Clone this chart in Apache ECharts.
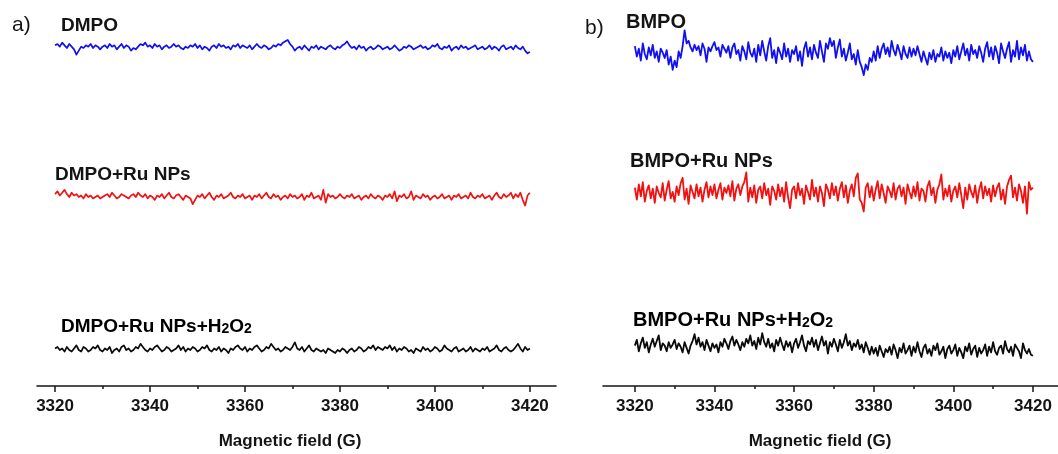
<!DOCTYPE html>
<html><head><meta charset="utf-8">
<script src="https://cdn.jsdelivr.net/npm/echarts@6/dist/echarts.min.js"></script>
<style>html,body{margin:0;padding:0;background:#fff}#c{width:1058px;height:454px}</style>
</head><body><div id="c"></div>
<script>
// Magnetic field sweep (G)
const fieldStart = 3320, fieldStep = 0.5;
const majorTicks = [3320, 3340, 3360, 3380, 3400, 3420];
const minorTicks = [3330, 3350, 3370, 3390, 3410];
const axisName = 'Magnetic field (G)';

// EPR intensity (a.u.), panel a
const dmpo = [2,3,1,4,2,0,3,1,-1,-5,-2,1,0,2,1,3,0,2,1,-1,
1,2,0,3,1,2,-1,1,3,0,2,1,-2,0,-1,1,3,2,4,1,
2,0,3,1,2,-1,1,2,0,1,3,1,2,0,-1,1,0,2,1,3,
0,2,-1,1,0,-2,1,2,0,3,1,2,0,1,-1,2,1,3,0,2,
1,0,2,-1,1,3,1,0,2,1,-1,0,2,1,3,2,4,5,6,3,
1,-2,0,1,-1,2,0,-2,1,0,2,-1,1,0,-1,1,2,0,-1,1,
0,2,3,5,2,0,1,-1,2,0,1,-2,0,1,-1,0,2,1,-1,0,
1,-1,0,2,0,-2,-1,1,0,2,1,-1,0,1,2,0,1,-1,0,2,
1,3,0,-1,1,0,2,-2,0,1,-1,2,0,1,-1,0,1,2,-1,0,
1,-1,0,2,-1,1,0,-2,1,2,-1,0,1,-1,2,0,-1,1,-2,-4,-3];
const dmpoRu = [2,4,1,3,5,2,0,3,1,2,0,1,-1,2,0,1,-1,0,1,-1,
0,1,2,0,3,1,-1,0,2,1,0,-1,1,2,0,3,1,0,2,-1,
1,0,-2,1,0,2,-1,1,3,0,-1,1,2,0,-2,1,0,-1,-5,-2,
1,0,2,-1,1,3,0,-2,1,0,2,-1,0,1,3,0,-1,1,0,2,
-1,0,1,-2,1,0,2,-1,1,3,0,-1,2,0,1,-2,0,1,-1,2,
0,1,-1,0,2,-2,1,0,3,-1,0,1,-2,5,-4,2,0,1,-1,0,
2,0,-1,1,0,2,-1,0,1,-2,0,1,-1,2,0,-1,1,0,-2,1,
0,2,-1,4,-3,1,0,2,-1,0,4,-2,1,0,-1,2,0,1,-2,0,
1,-1,0,2,-1,0,1,-2,1,0,2,-1,0,1,-1,3,0,-1,1,0,
2,-1,0,1,-2,1,3,0,-1,2,0,1,3,-1,2,0,3,-2,-6,1,3];
const dmpoRuH2O2 = [1,2,0,1,-1,2,0,-1,1,3,0,-1,2,1,-1,0,2,1,3,0,
-1,1,0,2,-2,0,1,-1,2,3,0,1,-1,0,2,1,4,2,0,-1,
1,0,2,3,1,-1,0,2,1,-1,0,1,3,0,2,-1,1,0,2,1,
-1,0,2,1,3,0,-1,1,0,2,-1,1,0,-2,1,0,2,3,1,0,
2,-1,1,0,2,3,1,-1,0,2,1,4,2,0,1,-1,0,2,1,0,
2,5,1,0,2,-1,1,3,0,-1,1,0,-1,0,-2,1,0,-1,-2,0,
-1,1,0,-2,0,1,-1,0,2,1,-1,0,2,1,3,0,2,1,0,2,
1,3,0,2,-1,1,0,2,1,-1,0,-2,1,0,-1,2,0,1,-1,0,
2,1,-1,0,3,1,0,-1,1,2,-1,0,1,-1,0,2,-1,1,0,-1,
1,0,2,-1,0,1,3,0,-1,1,2,0,-1,0,2,4,1,-1,2,0,1];

// EPR intensity (a.u.), panel b
const bmpo = [6,-2,4,-5,8,0,-4,5,-1,7,-3,2,-6,4,1,-3,3,-8,-2,-12,
-5,-10,2,-3,6,18,8,10,5,2,7,3,6,-1,8,4,-6,5,2,6,
9,3,5,-2,7,4,1,6,-3,5,8,0,3,-5,6,2,-4,9,1,-2,
4,-6,7,-1,10,2,-5,6,12,-3,3,-7,5,1,-4,8,-2,4,-6,3,
0,6,-5,2,-9,4,9,-2,5,-4,7,1,-3,10,2,-6,8,4,12,6,
10,-3,5,11,-2,4,-5,1,8,-4,0,-8,3,-6,-10,-16,-8,-12,-3,-6,
2,-5,6,-3,4,8,0,5,-2,10,3,-1,7,2,-4,6,0,-3,5,-2,
4,-1,6,0,-6,2,-3,-8,1,-4,3,-6,0,-2,5,-5,2,-3,1,-7,
3,-2,6,-4,2,8,-1,4,-5,7,0,3,-3,6,1,-6,4,9,-2,5,
-4,6,1,-7,8,2,-3,4,9,-6,3,-2,10,-4,5,-1,7,-5,2,-4,-6];
const bmpoRu = [5,-6,8,-3,10,-8,2,7,-5,4,-9,6,0,-4,9,-7,3,11,-5,1,
-8,6,-2,9,14,-6,4,-10,7,1,-5,8,-3,5,-8,3,10,-4,6,-2,
8,-5,3,9,-6,5,0,7,-3,11,-7,4,8,-2,6,10,19,-8,5,-4,
7,-9,3,6,-5,9,-2,4,-11,6,2,-6,8,-3,5,-8,10,-4,-14,3,
6,-5,9,-2,4,-10,7,1,-6,12,-3,5,-8,6,0,-12,8,3,-5,9,
-2,6,-7,4,10,-4,7,-9,2,8,-3,14,18,-6,-9,-17,5,9,-4,6,
-7,3,11,-5,8,0,-9,6,2,-4,9,-6,4,7,-3,5,-10,8,1,-5,
6,-3,10,-7,4,2,-8,6,11,-2,5,-9,3,8,17,-6,4,-3,7,-8,
2,6,-4,9,-2,-14,5,-6,8,1,-4,7,-9,3,10,-5,6,-2,4,-8,
7,-3,5,9,-6,3,-10,6,12,16,-4,5,-7,8,2,-9,6,-19,10,3,5];
const bmpoRuH2O2 = [3,8,-2,5,10,1,6,-3,4,9,2,7,12,-1,5,3,-2,6,1,4,
8,0,5,2,-3,6,1,-4,3,7,13,4,10,2,6,-1,8,3,-2,5,
1,4,-3,6,2,9,5,0,7,11,3,8,4,-1,6,2,9,5,12,3,
7,0,10,4,14,6,2,9,1,5,-2,8,3,10,4,-1,7,2,6,-3,
5,9,1,6,12,3,-2,7,4,10,2,8,-1,5,11,3,7,-4,6,2,
9,4,-2,8,1,6,13,3,7,-1,5,2,8,0,4,-3,6,1,-5,2,
-4,1,-6,3,-2,-7,0,-3,2,-5,4,-1,-8,1,-3,5,-4,-1,3,-6,
2,-3,6,-2,-7,1,4,-4,0,-6,3,-1,5,-5,-2,2,-8,0,3,-4,
-1,4,-6,1,-3,-8,2,-2,5,-5,0,3,-7,1,-4,-1,4,-6,2,-3,
6,-2,-5,1,3,-4,7,0,-3,2,-6,4,1,-2,-8,5,-1,-4,0,-5,-6];

const FONT = '"Liberation Sans", Arial, sans-serif';
const INK = '#141414';
const BLUE = '#1010f2', RED = '#f21010', BLACK = '#0a0a0a';

// each trace: its own band; yHalf sets the vertical scale of the band
const panels = [
  { left: 37, right: 502, min: 3316.2, max: 3425.5, axisY: 386, lw: 1.7,
    traces: [
      { data: dmpo, top: 28, h: 40, yHalf: 15, color: BLUE },
      { data: dmpoRu, top: 177, h: 40, yHalf: 14, color: RED },
      { data: dmpoRuH2O2, top: 330, h: 40, yHalf: 13, color: BLACK }
    ] },
  { left: 603, right: 0, min: 3312.0, max: 3426.3, axisY: 386, lw: 1.8,
    traces: [
      { data: bmpo, top: 29, h: 50, yHalf: 19, color: BLUE },
      { data: bmpoRu, top: 168, h: 50, yHalf: 23, color: RED },
      { data: bmpoRuH2O2, top: 324, h: 50, yHalf: 22, color: BLACK }
    ] }
];

const grids = [], xAxes = [], yAxes = [], series = [];
panels.forEach(p => {
  p.traces.forEach(t => {
    const gi = grids.length, xi = xAxes.length, yi = yAxes.length;
    grids.push({ left: p.left, right: p.right, top: t.top, height: t.h });
    xAxes.push({ type: 'value', gridIndex: gi, min: p.min, max: p.max, show: false });
    yAxes.push({ type: 'value', gridIndex: gi, min: -t.yHalf, max: t.yHalf, show: false });
    series.push({
      type: 'line', xAxisIndex: xi, yAxisIndex: yi, symbol: 'none', showSymbol: false,
      silent: true, animation: false,
      data: t.data.map((v, i) => [fieldStart + i * fieldStep, v]),
      lineStyle: { color: t.color, width: p.lw, join: 'round' }, itemStyle: { color: t.color }
    });
  });
  // main axis: line, major ticks, labels
  let gi = grids.length;
  grids.push({ left: p.left, right: p.right, top: p.axisY - 10, height: 10 });
  yAxes.push({ type: 'value', gridIndex: gi, min: 0, max: 1, show: false });
  xAxes.push({
    type: 'value', gridIndex: gi, min: p.min, max: p.max, position: 'bottom',
    axisLine: { show: true, onZero: false, lineStyle: { color: INK, width: 1.6 } },
    axisTick: { show: true, customValues: majorTicks, length: 6, lineStyle: { color: INK, width: 1.5 } },
    axisLabel: { show: true, customValues: majorTicks, formatter: v => String(v), margin: 12,
      fontSize: 17, fontWeight: 'bold', fontFamily: FONT, color: INK },
    splitLine: { show: false }
  });
  // minor ticks in a band starting at the axis line
  gi = grids.length;
  grids.push({ left: p.left, right: p.right, top: p.axisY, height: 10 });
  yAxes.push({ type: 'value', gridIndex: gi, min: 0, max: 1, show: false });
  xAxes.push({
    type: 'value', gridIndex: gi, min: p.min, max: p.max, position: 'top',
    axisLine: { show: false, onZero: false },
    axisTick: { show: true, inside: true, customValues: minorTicks, length: 3, lineStyle: { color: INK, width: 1.5 } },
    axisLabel: { show: false }, splitLine: { show: false }
  });
});

function label(text, x, y, size, weight, align) {
  return { type: 'text', x: x, y: y, silent: true,
    style: { text: text, fill: INK, font: (weight || 'bold') + ' ' + size + 'px ' + FONT,
      textAlign: align || 'left', textVerticalAlign: 'middle', verticalAlign: 'middle' } };
}
function chem(base, x, y, size) {
  return { type: 'text', x: x, y: y, silent: true,
    style: { text: '{b|' + base + '+H}{s|2}{b|O}{s|2}', textVerticalAlign: 'middle', verticalAlign: 'middle',
      rich: { b: { fontSize: size, fontWeight: 'bold', fontFamily: FONT, color: INK },
              s: { fontSize: Math.round(size * 0.72), fontWeight: 'bold', fontFamily: FONT, color: INK, verticalAlign: 'bottom' } } } };
}

const graphics = [
  label('a)', 12, 25, 21, 'normal'),
  label('b)', 585, 28, 21, 'normal'),
  label('DMPO', 61, 26, 19),
  label('DMPO+Ru NPs', 55, 175, 19),
  chem('DMPO+Ru NPs', 61, 327, 19),
  label('BMPO', 626, 22, 20),
  label('BMPO+Ru NPs', 630, 161, 20),
  chem('BMPO+Ru NPs', 633, 320, 20),
  label(axisName, 290, 441, 17, 'bold', 'center'),
  label(axisName, 820, 441, 17, 'bold', 'center')
];

const chart = echarts.init(document.getElementById('c'), null, { renderer: 'canvas' });
chart.setOption({
  animation: false,
  backgroundColor: '#ffffff',
  grid: grids, xAxis: xAxes, yAxis: yAxes, series: series,
  graphic: graphics
});
</script></body></html>
